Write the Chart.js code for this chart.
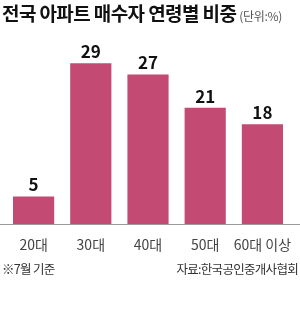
<!DOCTYPE html>
<html>
<head>
<meta charset="utf-8">
<script src="https://cdn.jsdelivr.net/npm/chart.js@4"></script>
<style>
  body { margin: 0; background: #fff; font-family: "Noto Sans CJK KR", sans-serif; }
  #wrap { position: relative; width: 300px; height: 323px; overflow: hidden; }
  #title { position: absolute; left: 2px; top: -1px; font-size: 19px; font-weight: bold; color: #111; letter-spacing: -0.6px; white-space: nowrap; }
  #title span { font-size: 12px; font-weight: normal; color: #555; letter-spacing: -0.3px; margin-left: 3px; }
  #box { position: absolute; left: 0; top: 0; width: 300px; height: 260px; }
  .foot { position: absolute; top: 259px; font-size: 12.5px; color: #333; letter-spacing: -0.7px; white-space: nowrap; }
</style>
</head>
<body>
<div id="wrap">
  <div id="box"><canvas id="myChart"></canvas></div>
  <div id="title">전국 아파트 매수자 연령별 비중<span>(단위:%)</span></div>
  <div class="foot" style="left:2px">※7월 기준</div>
  <div class="foot" style="right:2px">자료:한국공인중개사협회</div>
</div>
<script>
const ageGroups = ['20대', '30대', '40대', '50대', '60대 이상'];
const buyerShare = [5, 29, 27, 21, 18];

// value labels above each bar
const barLabels = {
    id: 'barLabels',
    afterDatasetsDraw(chart) {
        const ctx = chart.ctx;
        const meta = chart.getDatasetMeta(0);
        ctx.save();
        ctx.font = 'bold 17px "Noto Sans CJK KR", sans-serif';
        ctx.fillStyle = '#111';
        ctx.textAlign = 'center';
        ctx.textBaseline = 'bottom';
        meta.data.forEach((bar, i) => {
            ctx.fillText(buyerShare[i], bar.x, bar.y - 3);
        });
        ctx.restore();
    }
};

// baseline across the whole width
const baseLine = {
    id: 'baseLine',
    afterDatasetsDraw(chart) {
        const ctx = chart.ctx;
        const y = Math.round(chart.scales.y.getPixelForValue(0)) + 0.5;
        ctx.save();
        ctx.strokeStyle = '#9a9a9a';
        ctx.lineWidth = 1;
        ctx.beginPath();
        ctx.moveTo(0, y);
        ctx.lineTo(chart.width, y);
        ctx.stroke();
        ctx.restore();
    }
};

new Chart(document.getElementById('myChart').getContext('2d'), {
    type: 'bar',
    data: {
        labels: ageGroups,
        datasets: [{
            data: buyerShare,
            backgroundColor: '#c24a73',
            barPercentage: 0.72,
            categoryPercentage: 1
        }]
    },
    options: {
        responsive: true,
        maintainAspectRatio: false,
        animation: false,
        layout: { padding: { left: 5, right: 9, top: 30, bottom: 3 } },
        scales: {
            x: {
                grid: { display: false },
                border: { display: false },
                ticks: {
                    color: '#444',
                    font: { family: '"Noto Sans CJK KR", sans-serif', size: 14 },
                    padding: 4,
                    maxRotation: 0,
                    autoSkip: false
                }
            },
            y: {
                display: false,
                min: 0,
                max: 35
            }
        },
        plugins: {
            legend: { display: false },
            tooltip: { enabled: false }
        }
    },
    plugins: [barLabels, baseLine]
});
</script>
</body>
</html>
